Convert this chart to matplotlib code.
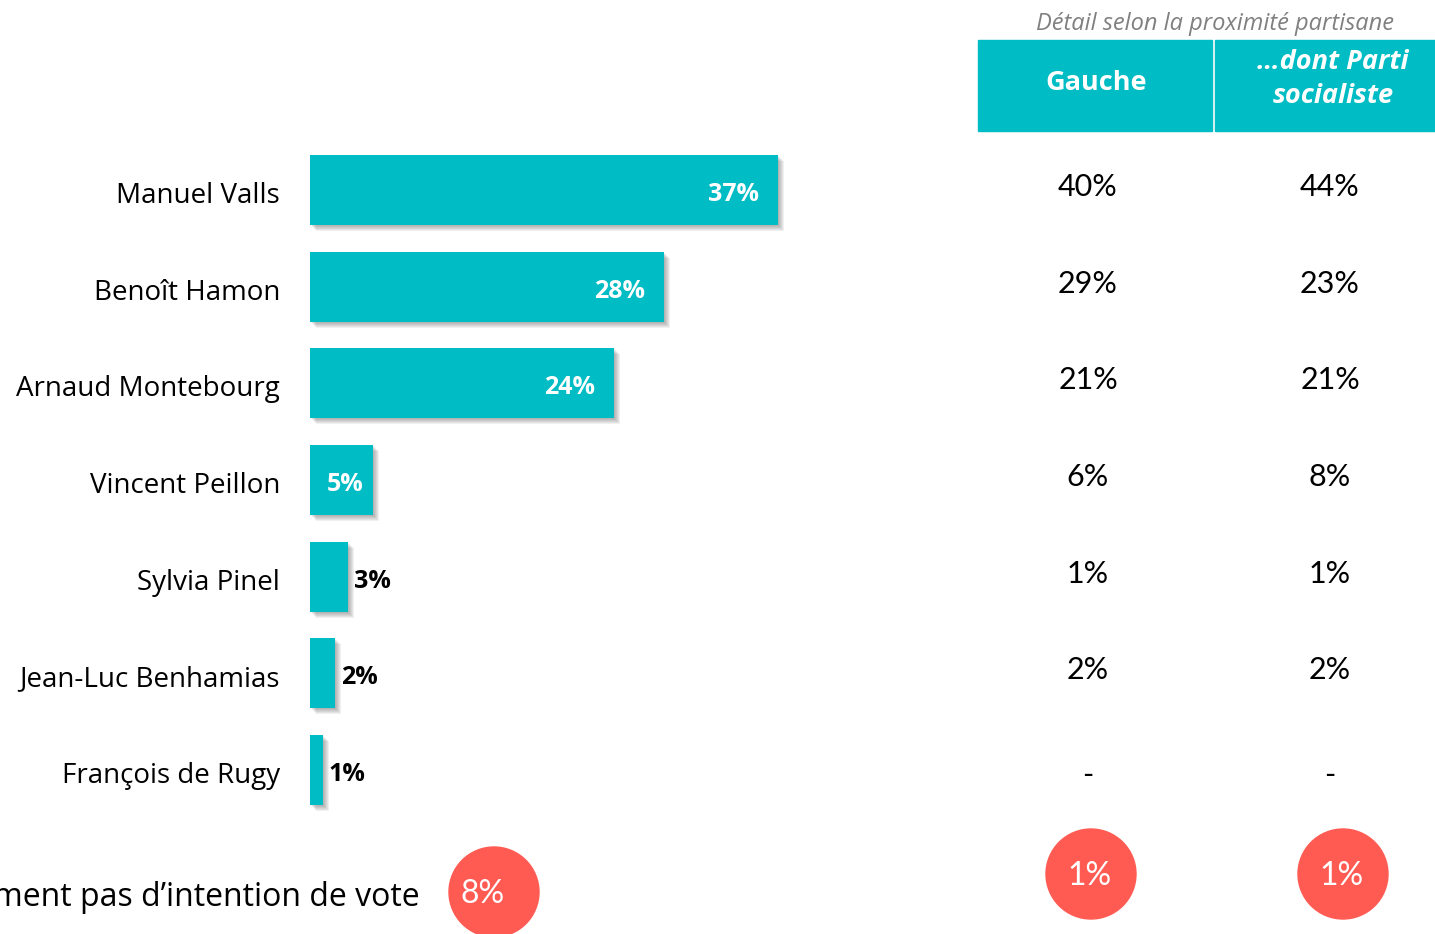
import matplotlib.pyplot as plt
from matplotlib.patches import Circle, Rectangle

candidates = ['Manuel Valls', 'Benoît Hamon', 'Arnaud Montebourg', 'Vincent Peillon',
              'Sylvia Pinel', 'Jean-Luc Benhamias', 'François de Rugy']
total = [37, 28, 24, 5, 3, 2, 1]
gauche = ['40%', '29%', '21%', '6%', '1%', '2%', '-']
ps = ['44%', '23%', '21%', '8%', '1%', '2%', '-']
col_headers = ['Gauche', '…dont Parti\nsocialiste']
no_vote = ['8%', '1%', '1%']

teal = '#00BCC4'
red = '#FF5B53'
W, H = 1435, 934

fig = plt.figure(figsize=(W / 100, H / 100), dpi=100)

# overlay in pixel coords for the table part
ov = fig.add_axes([0, 0, 1, 1])
ov.set_xlim(0, W)
ov.set_ylim(H, 0)
ov.axis('off')

# bar axes
px_per_pct = 12.65
row_px = 96.67
top_px = 190 - row_px / 2
bot_px = 770 + row_px / 2
ax = fig.add_axes([310 / W, 1 - bot_px / H, px_per_pct * 40 / W, (bot_px - top_px) / H])
ax.set_xlim(0, 40)
ax.set_ylim(len(candidates) - 0.5, -0.5)
ax.axis('off')

y = list(range(len(candidates)))
bh = 70 / row_px
dx, dy = 1 / px_per_pct, 1 / row_px
for k in range(1, 7):
    ax.barh([v + dy * k for v in y], total, height=bh, left=dx * k,
            color='#444444', alpha=0.08, zorder=1)
ax.barh(y, total, height=bh, color=teal, zorder=2)

lab_kw = dict(va='baseline', fontsize=18, fontweight='bold', family='Open Sans', zorder=3)
base = 11 / row_px
for i, v in enumerate(total):
    if v > 10:
        ax.text(v - 1.5, i + base, f'{v}%', ha='right', color='white', **lab_kw)
    elif v >= 5:
        ax.text(v / 2 + 0.3, i + base, f'{v}%', ha='center', color='white', **lab_kw)
    else:
        ax.text(v + 0.45, i + base, f'{v}%', ha='left', color='black', **lab_kw)
    ov.text(280, 203 + row_px * i, candidates[i], ha='right', va='baseline',
            fontsize=20, family='Open Sans', color='black')

# table header
ov.text(1215, 30, 'Détail selon la proximité partisane', ha='center',
        va='baseline', fontsize=17, style='italic', color='#808080', family='Open Sans')
ov.add_patch(Rectangle((978, 40), 234, 91, color=teal))
ov.add_patch(Rectangle((1215, 40), 225, 91, color=teal))
ov.text(1096, 90, col_headers[0], ha='center', va='baseline', color='white',
        fontsize=19.5, fontweight='bold', family='Open Sans')
ov.text(1333, 79, col_headers[1], ha='center', va='center', color='white',
        fontsize=19.5, fontweight='bold', style='italic', family='Open Sans',
        linespacing=1.4)

for i in range(len(candidates)):
    yy = 196 + row_px * i
    off = 8 if gauche[i] == '-' else 0
    ov.text(1088, yy + off, gauche[i], ha='center', va='baseline', fontsize=22,
            family='Lato', color='black')
    ov.text(1330, yy + off, ps[i], ha='center', va='baseline', fontsize=22,
            family='Lato', color='black')

# no vote intention row
ov.text(420, 906, 'N\u2019expriment pas d\u2019intention de vote', ha='right', va='baseline',
        fontsize=23, family='Open Sans', color='black')
circles = [(494, 892), (1091, 874), (1343, 874)]
for (cx, cy), lab in zip(circles, no_vote):
    ov.add_patch(Circle((cx, cy), 45, color=red))
    ov.text(cx - 11 if lab == '8%' else cx - 2, cy + 11, lab, ha='center', va='baseline',
            color='white', fontsize=23, family='Lato')

fig.savefig('out.png', dpi=100)
